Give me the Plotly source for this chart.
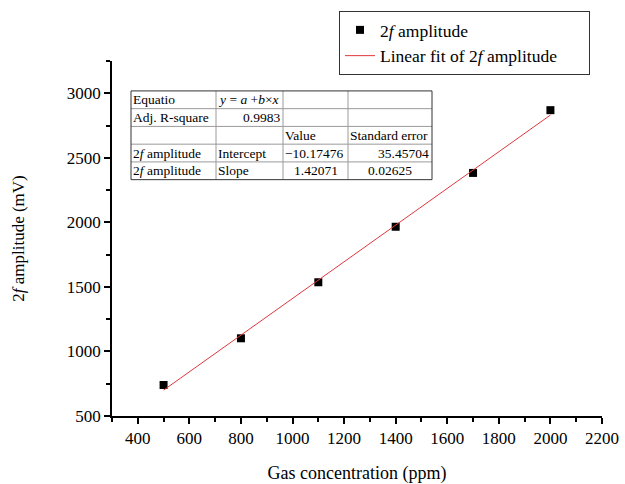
import plotly.graph_objects as go

# ---- data ----
conc = [500, 800, 1100, 1400, 1700, 2000]
amp = [740, 1102, 1536, 1966, 2383, 2869]
fit_x = [500, 2000]
fit_y = [700.2, 2831.2]

table_rows = [
    ["Equatio", "<i>y</i> = <i>a</i> +<i>b</i>×<i>x</i>", "", ""],
    ["Adj. R-square", "0.9983", "", ""],
    ["", "", "Value", "Standard error"],
    ["2<i>f</i> amplitude", "Intercept", "−10.17476", "35.45704"],
    ["2<i>f</i> amplitude", "Slope", "1.42071", "0.02625"],
]
table_align = [
    ["left", "left", "left", "left"],
    ["left", "right", "left", "left"],
    ["left", "left", "left", "left"],
    ["left", "left", "left", "right"],
    ["left", "left", "center", "center"],
]

FONT = "Liberation Serif"

fig = go.Figure()
fig.add_trace(go.Scatter(
    x=conc, y=amp, mode="markers", name="2<i>f</i> amplitude",
    marker=dict(symbol="square", size=8, color="black"),
))
fig.add_trace(go.Scatter(
    x=fit_x, y=fit_y, mode="lines",
    name="Linear fit of 2<i>f</i> amplitude" + "\u00a0" * 6,
    line=dict(color="#e0383e", width=1),
))

# plot area in pixels
L, R, T, B = 112, 602, 60, 416
W, H = R - L, B - T

def px(xp):
    return (xp - L) / W

def py(yp):
    return (B - yp) / H

# table geometry (pixels)
col_edges = [131, 216, 283, 348, 432]
row_edges = [90, 107.8, 125.6, 143.4, 161.2, 179]

shapes = []
for ce in col_edges[1:-1]:
    shapes.append(dict(type="line", xref="paper", yref="paper",
                       x0=px(ce), x1=px(ce), y0=py(row_edges[0]), y1=py(row_edges[-1]),
                       line=dict(color="#9a9a9a", width=1)))
for re_ in row_edges[1:-1]:
    shapes.append(dict(type="line", xref="paper", yref="paper",
                       x0=px(col_edges[0]), x1=px(col_edges[-1]), y0=py(re_), y1=py(re_),
                       line=dict(color="#9a9a9a", width=1)))
shapes.append(dict(type="rect", xref="paper", yref="paper",
                   x0=px(col_edges[0]), x1=px(col_edges[-1]),
                   y0=py(row_edges[0]), y1=py(row_edges[-1]),
                   line=dict(color="#333333", width=1), fillcolor="rgba(0,0,0,0)"))

annotations = []
for i, row in enumerate(table_rows):
    yc = (row_edges[i] + row_edges[i + 1]) / 2
    for j, txt in enumerate(row):
        if not txt:
            continue
        al = table_align[i][j]
        if al == "left":
            xv, xa = col_edges[j] + 1, "left"
        elif al == "right":
            xv, xa = col_edges[j + 1] - 2, "right"
        else:
            xv, xa = (col_edges[j] + col_edges[j + 1]) / 2, "center"
        annotations.append(dict(text=txt, xref="paper", yref="paper",
                                x=px(xv), y=py(yc), xanchor=xa, yanchor="middle",
                                showarrow=False, borderpad=0,
                                font=dict(family=FONT, size=13.5, color="black")))

fig.update_layout(
    width=625, height=484,
    margin=dict(l=L, r=625 - R, t=T, b=484 - B),
    paper_bgcolor="white", plot_bgcolor="white",
    font=dict(family=FONT, color="black"),
    shapes=shapes, annotations=annotations,
    showlegend=True,
    legend=dict(
        x=px(339), y=py(11), xanchor="left", yanchor="top",
        bordercolor="#333333", borderwidth=1, bgcolor="white",
        font=dict(family=FONT, size=17.5, color="black"),
        tracegroupgap=0, itemwidth=30,
    ),
    xaxis=dict(
        range=[300, 2200], tick0=400, dtick=200, automargin=False,
        showline=True, linecolor="black", linewidth=1.5,
        ticks="outside", ticklen=6, tickcolor="black", tickwidth=1.5,
        minor=dict(dtick=100, tick0=300, ticks="outside", ticklen=4, tickcolor="black"),
        showgrid=False, zeroline=False,
        tickfont=dict(family=FONT, size=17, color="black"),
        title=dict(text="Gas concentration (ppm)", font=dict(family=FONT, size=18, color="black"), standoff=20),
    ),
    yaxis=dict(
        range=[500, 3250], tick0=500, dtick=500, automargin=False,
        showline=True, linecolor="black", linewidth=1.5,
        ticks="outside", ticklen=6, tickcolor="black", tickwidth=1.5,
        minor=dict(dtick=250, tick0=500, ticks="outside", ticklen=4, tickcolor="black"),
        showgrid=False, zeroline=False,
        tickfont=dict(family=FONT, size=17, color="black"),
        title=dict(text="2<i>f</i> amplitude (mV)", font=dict(family=FONT, size=17, color="black"), standoff=38),
    ),
)

fig.write_html("out.html")
